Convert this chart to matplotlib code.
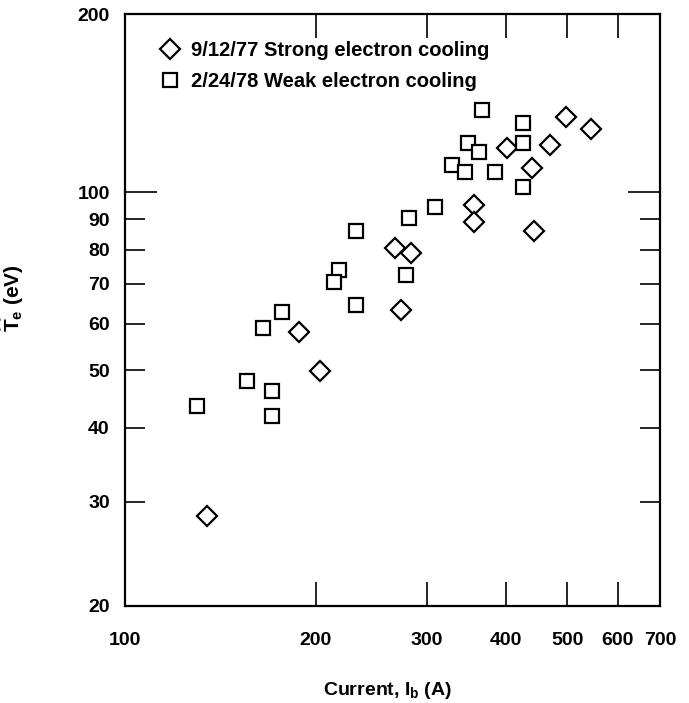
import matplotlib
matplotlib.use("Agg")
import matplotlib.pyplot as plt
from matplotlib.ticker import FixedLocator, FixedFormatter, NullLocator

plt.rcParams['font.family'] = ['Liberation Sans', 'DejaVu Sans']
plt.rcParams['font.weight'] = 'bold'
plt.rcParams['mathtext.fontset'] = 'custom'
plt.rcParams['mathtext.rm'] = 'Liberation Sans:bold'
plt.rcParams['mathtext.it'] = 'Liberation Sans:bold'
plt.rcParams['mathtext.bf'] = 'Liberation Sans:bold'

# Data (current in A, temperature in eV)
strong_label = "9/12/77 Strong electron cooling"
strong_current = [498, 544, 470, 401, 440, 356, 356, 442, 267, 283, 273, 188, 203, 135]
strong_te = [134, 128, 120, 119, 110, 95, 89, 86, 80.6, 79, 63.2, 58, 49.8, 28.4]

weak_label = "2/24/78 Weak electron cooling"
weak_current = [366, 426, 426, 348, 362, 329, 344, 384, 426, 309, 281, 232,
                218, 214, 278, 232, 177, 165, 156, 171, 171, 130]
weak_te = [137.5, 131, 121, 121, 117, 111, 108, 108, 102, 94.6, 90.6, 86,
           74, 70.5, 72.5, 64.5, 62.8, 59, 48, 46.1, 41.8, 43.5]

x_ticks = [100, 200, 300, 400, 500, 600, 700]
y_major = [20, 100, 200]
y_minor = [30, 40, 50, 60, 70, 80, 90]

FS = 14

fig = plt.figure(figsize=(6.89, 7.03), dpi=100)
ax = fig.add_axes([0.1814, 0.138, 0.7765, 0.842])
ax.set_xscale('log')
ax.set_yscale('log')

ax.plot(strong_current, strong_te, linestyle='none', marker='D', ms=10,
        mfc='white', mec='black', mew=1.6, label=strong_label)
ax.plot(weak_current, weak_te, linestyle='none', marker='s', ms=10.5,
        mfc='white', mec='black', mew=1.6, label=weak_label)

ax.set_xlim(100, 700)
ax.set_ylim(20, 200)

ax.xaxis.set_major_locator(FixedLocator(x_ticks))
ax.xaxis.set_major_formatter(FixedFormatter([str(v) for v in x_ticks]))
ax.xaxis.set_minor_locator(NullLocator())
ax.yaxis.set_major_locator(FixedLocator(y_major))
ax.yaxis.set_major_formatter(FixedFormatter([str(v) for v in y_major]))
ax.yaxis.set_minor_locator(FixedLocator(y_minor))
ax.yaxis.set_minor_formatter(FixedFormatter([str(v) for v in y_minor]))

ax.tick_params(axis='x', which='major', direction='in', top=True, bottom=True,
               length=17, width=1.2, pad=19, labelsize=FS)
ax.tick_params(axis='y', which='major', direction='in', left=True, right=True,
               length=23, width=1.2, pad=11, labelsize=FS)
ax.tick_params(axis='y', which='minor', direction='in', left=True, right=True,
               length=14.5, width=1.2, pad=11, labelsize=FS)
for lab in ax.get_xticklabels() + ax.get_yticklabels() + ax.get_yticklabels(minor=True):
    lab.set_fontweight('bold')

for sp in ax.spines.values():
    sp.set_linewidth(1.6)

ax.set_xlabel(r'Current, $I_\mathrm{b}$ (A)', fontsize=FS, fontweight='bold')
ax.xaxis.set_label_coords(0.49, -0.125)
ax.set_ylabel(r'$\widehat{T}_\mathrm{e}$ (eV)', fontsize=FS + 1, fontweight='bold')
ax.yaxis.set_label_coords(-0.185, 0.52)

leg = ax.legend(loc='upper left', bbox_to_anchor=(0.05, 0.968), frameon=False,
                handlelength=1.0, handletextpad=0.55, labelspacing=0.6,
                prop={'size': FS + 0.5, 'weight': 'bold'}, borderaxespad=0.0)

fig.savefig('out.png', dpi=100)
